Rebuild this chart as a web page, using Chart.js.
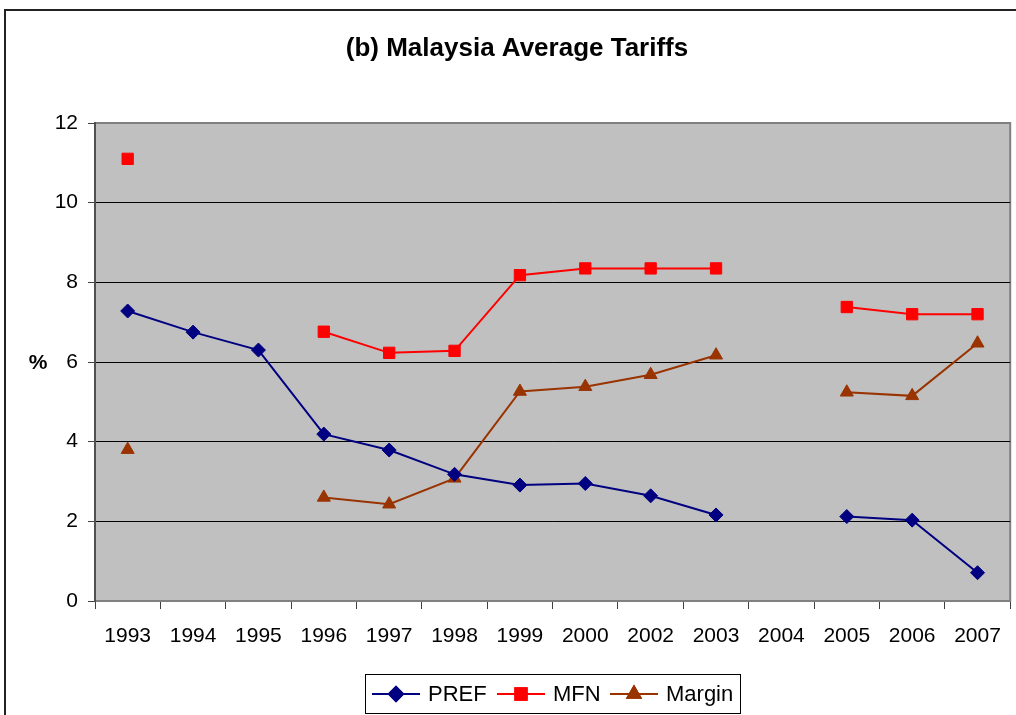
<!DOCTYPE html>
<html>
<head>
<meta charset="utf-8">
<title>Malaysia Average Tariffs</title>
<script src="https://cdn.jsdelivr.net/npm/chart.js@4/dist/chart.umd.min.js"></script>
<style>
  html, body { margin: 0; padding: 0; background: #fff; }
  #wrap { width: 1016px; height: 715px; }
</style>
</head>
<body>
<div id="wrap"><canvas id="tariffChart" width="1016" height="715"></canvas></div>
<script>
const years = ['1993', '1994', '1995', '1996', '1997', '1998', '1999', '2000', '2002', '2003', '2004', '2005', '2006', '2007'];
const prefValues = [7.28, 6.75, 6.3, 4.19, 3.79, 3.18, 2.91, 2.95, 2.64, 2.16, null, 2.12, 2.03, 0.71];
const mfnValues = [11.1, null, null, 6.76, 6.23, 6.28, 8.18, 8.35, 8.35, 8.35, null, 7.38, 7.2, 7.2];
const marginValues = [3.8, null, null, 2.6, 2.43, 3.08, 5.26, 5.38, 5.68, 6.17, null, 5.24, 5.15, 6.47];
const yTicks = [0, 2, 4, 6, 8, 10, 12];

const FONT = "'Liberation Sans', Arial, sans-serif";

// background, borders, title, % label and legend box
const frame = {
    id: 'frame',
    beforeDraw(chart) {
        const { ctx, chartArea: a } = chart;
        ctx.save();
        ctx.fillStyle = '#fff';
        ctx.fillRect(0, 0, chart.width, chart.height);
        ctx.strokeStyle = '#222';
        ctx.lineWidth = 2;
        ctx.strokeRect(5, 10, 1200, 1200);
        ctx.fillStyle = '#C0C0C0';
        ctx.fillRect(a.left, a.top, a.right - a.left, a.bottom - a.top);
        ctx.strokeStyle = '#808080';
        ctx.lineWidth = 2;
        ctx.strokeRect(a.left, a.top, a.right - a.left, a.bottom - a.top);
        ctx.restore();
    },
    afterDraw(chart) {
        const { ctx } = chart;
        ctx.save();
        ctx.fillStyle = '#000';
        ctx.textAlign = 'center';
        ctx.textBaseline = 'middle';
        ctx.font = 'bold 26px ' + FONT;
        ctx.fillText('(b) Malaysia Average Tariffs', 517, 49);
        ctx.font = 'bold 21px ' + FONT;
        ctx.fillText('%', 38, 363);

        // legend
        ctx.strokeStyle = '#000';
        ctx.lineWidth = 1;
        ctx.strokeRect(365.5, 674.5, 375, 39);
        const items = [
            { ds: 0, x: 372 },
            { ds: 1, x: 497 },
            { ds: 2, x: 610 }
        ];
        const ly = 694;
        items.forEach(it => {
            const d = chart.data.datasets[it.ds];
            ctx.strokeStyle = d.borderColor;
            ctx.lineWidth = 2;
            ctx.beginPath();
            ctx.moveTo(it.x, ly);
            ctx.lineTo(it.x + 48, ly);
            ctx.stroke();
            Chart.helpers.drawPoint(ctx, {
                pointStyle: d.pointStyle,
                radius: d.pointRadius,
                borderWidth: 1
            }, it.x + 24, ly);
            ctx.fillStyle = d.pointBackgroundColor;
            ctx.strokeStyle = d.pointBorderColor;
            ctx.fill();
            ctx.stroke();
            ctx.fillStyle = '#000';
            ctx.font = '22px ' + FONT;
            ctx.textAlign = 'left';
            ctx.textBaseline = 'middle';
            ctx.fillText(d.label, it.x + 56, ly + 1);
        });
        ctx.restore();
    }
};

function series(label, data, color, style, radius) {
    return {
        label: label,
        data: data,
        borderColor: color,
        backgroundColor: color,
        borderWidth: 2,
        pointStyle: style,
        pointRadius: radius,
        pointHoverRadius: radius,
        pointBackgroundColor: color,
        pointBorderColor: color,
        pointBorderWidth: 1,
        spanGaps: false,
        tension: 0
    };
}

new Chart(document.getElementById('tariffChart').getContext('2d'), {
    type: 'line',
    data: {
        labels: years,
        datasets: [
            series('PREF', prefValues, '#000080', 'rectRot', 7),
            series('MFN', mfnValues, '#FF0000', 'rect', 8),
            series('Margin', marginValues, '#993300', 'triangle', 7.5)
        ]
    },
    options: {
        responsive: false,
        animation: false,
        devicePixelRatio: 1,
        layout: { autoPadding: false, padding: { left: 0, top: 123, right: 3, bottom: 53 } },
        plugins: {
            legend: { display: false },
            title: { display: false },
            tooltip: { enabled: false }
        },
        scales: {
            x: {
                offset: true,
                grid: {
                    offset: true,
                    drawOnChartArea: false,
                    drawTicks: true,
                    tickLength: 8,
                    tickColor: '#404040',
                    lineWidth: 1
                },
                border: { color: '#808080', width: 2 },
                ticks: {
                    color: '#000',
                    font: { family: FONT, size: 21 },
                    padding: 15,
                    maxRotation: 0,
                    autoSkip: false
                },
                afterFit(s) { s.height = 61; }
            },
            y: {
                min: 0,
                max: 12,
                afterBuildTicks(s) { s.ticks = yTicks.map(v => ({ value: v })); },
                grid: {
                    color: c => (c.tick && (c.tick.value === 0 || c.tick.value === 12)) ? '#808080' : '#000',
                    tickColor: '#404040',
                    tickLength: 7,
                    lineWidth: 1
                },
                border: { color: '#505050', width: 2 },
                ticks: {
                    color: '#000',
                    font: { family: FONT, size: 21 },
                    padding: 10
                },
                afterFit(s) { s.width = 95; }
            }
        }
    },
    plugins: [frame]
});
</script>
</body>
</html>
